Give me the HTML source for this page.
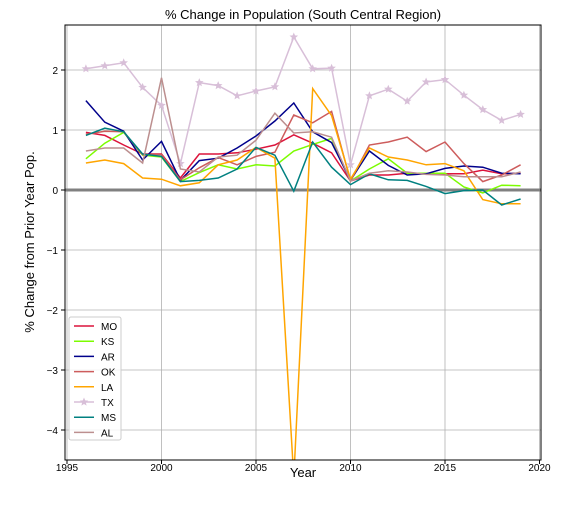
<!DOCTYPE html>
<html><head><meta charset="utf-8"><style>
body{margin:0;background:#fff}
svg text{font-family:"Liberation Sans","DejaVu Sans",sans-serif}
</style></head><body>
<svg id="c" width="576" height="504" xmlns="http://www.w3.org/2000/svg">
<defs><clipPath id="clip"><rect x="65" y="25" width="476" height="435"/></clipPath></defs>
<rect x="0" y="0" width="576" height="504" fill="#fff"/>
<g id="grid"></g>
<g id="series" clip-path="url(#clip)"></g>
<rect x="65" y="25" width="476" height="435" fill="none" stroke="#000" stroke-width="1"/>
<g id="ticks"></g>
<text x="303" y="19" text-anchor="middle" font-size="13">% Change in Population (South Central Region)</text>
<text x="303" y="477" text-anchor="middle" font-size="13">Year</text>
<text transform="translate(34,242) rotate(-90)" text-anchor="middle" font-size="13">% Change from Prior Year Pop.</text>
<g id="legend"></g>
</svg>
<script>
const years=[1996,1997,1998,1999,2000,2001,2002,2003,2004,2005,2006,2007,2008,2009,2010,2011,2012,2013,2014,2015,2016,2017,2018,2019];
const MO=[0.96,0.91,0.75,0.6,0.6,0.2,0.6,0.6,0.62,0.68,0.75,0.92,0.78,0.62,0.15,0.25,0.25,0.28,0.27,0.27,0.27,0.33,0.27,0.28];
const KS=[0.52,0.78,0.96,0.58,0.55,0.14,0.29,0.42,0.35,0.42,0.4,0.65,0.76,0.86,0.15,0.35,0.52,0.28,0.28,0.28,0.05,-0.05,0.08,0.07];
const AR=[1.49,1.13,0.98,0.5,0.81,0.16,0.49,0.53,0.7,0.9,1.15,1.45,0.97,0.79,0.16,0.65,0.41,0.25,0.27,0.36,0.4,0.38,0.28,0.27];
const OK=[0.93,0.98,0.97,0.59,0.59,0.17,0.37,0.54,0.42,0.56,0.63,1.25,1.12,1.31,0.15,0.75,0.8,0.88,0.64,0.8,0.44,0.14,0.25,0.42];
const LA=[0.45,0.5,0.44,0.2,0.18,0.07,0.12,0.42,0.5,0.71,0.53,-4.8,1.69,1.24,0.18,0.7,0.55,0.5,0.42,0.44,0.32,-0.16,-0.23,-0.23];
const TX=[2.02,2.07,2.12,1.71,1.41,0.44,1.79,1.74,1.57,1.65,1.72,2.55,2.02,2.03,0.42,1.57,1.68,1.48,1.8,1.84,1.58,1.34,1.16,1.26];
const MS=[0.91,1.03,0.97,0.6,0.56,0.14,0.16,0.2,0.35,0.71,0.58,-0.02,0.8,0.38,0.09,0.27,0.17,0.16,0.06,-0.06,-0.01,0.0,-0.25,-0.15];
const AL=[0.65,0.7,0.7,0.45,1.87,0.35,0.3,0.55,0.58,0.83,1.28,0.95,0.97,0.88,0.15,0.28,0.32,0.3,0.26,0.25,0.22,0.22,0.22,0.3];
const xTicks=[1995,2000,2005,2010,2015,2020];
const yTicks=[2,1,0,-1,-2,-3,-4];
const seriesNames=["MO","KS","AR","OK","LA","TX","MS","AL"];
const seriesData=[MO,KS,AR,OK,LA,TX,MS,AL];
const colors=["#dc143c","#7cfc00","#00008b","#cd5c5c","#ffa500","#d8bfd8","#008080","#bc8f8f"];
const NS="http://www.w3.org/2000/svg";
const xs=y=>67+(y-1995)*18.9;
const ys=v=>190-v*60;
function mk(t,a,p){const e=document.createElementNS(NS,t);for(const k in a)e.setAttribute(k,a[k]);p.appendChild(e);return e;}
const grid=document.getElementById('grid'),ticks=document.getElementById('ticks');
xTicks.forEach(t=>{
 const l=mk('line',{x1:xs(t),x2:xs(t),y1:25,y2:460,stroke:'#b0b0b0','stroke-width':0.8},grid);
 
 
 mk('line',{x1:xs(t),x2:xs(t),y1:460,y2:464,stroke:'#000'},ticks);
 const tx=mk('text',{x:xs(t),y:471,'text-anchor':'middle','font-size':10},ticks);tx.textContent=t;
 
 
});
yTicks.forEach(t=>{
 const l=mk('line',{x1:65,x2:541,y1:ys(t),y2:ys(t),stroke:'#b0b0b0','stroke-width':0.8},grid);
 
 
 mk('line',{x1:61,x2:65,y1:ys(t),y2:ys(t),stroke:'#000'},ticks);
 const tx=mk('text',{x:58,y:ys(t)+4,'text-anchor':'end','font-size':10},ticks);tx.textContent=(t<0?'\u2212'+(-t):t);
 
 
});
const z=mk('line',{x1:65,x2:541,y1:ys(0),y2:ys(0),stroke:'#808080','stroke-width':3},grid);


const sg=document.getElementById('series');
function star(cx,cy,r){let p=[];for(let i=0;i<10;i++){const a=-Math.PI/2+i*Math.PI/5;const rr=i%2?r*0.45:r;p.push((cx+rr*Math.cos(a)).toFixed(1)+','+(cy+rr*Math.sin(a)).toFixed(1));}return p.join(' ');}
seriesData.forEach((d,i)=>{
 const pts=d.map((v,j)=>xs(years[j])+','+ys(v)).join(' ');
 const pl=mk('polyline',{points:pts,fill:'none',stroke:colors[i],'stroke-width':1.5},sg);
 
 
 if(seriesNames[i]==='TX'){d.forEach((v,j)=>{const s=mk('polygon',{points:star(xs(years[j]),ys(v),4.5),fill:colors[i]},sg);
 
 });}
});
const lg=document.getElementById('legend');
const box=mk('rect',{x:69,y:317,width:52,height:123,fill:'#fff','fill-opacity':0.85,stroke:'#ccc',rx:2},lg);


seriesNames.forEach((n,i)=>{
 const y=326+i*15.2;
 const l=mk('line',{x1:74,x2:94,y1:y,y2:y,stroke:colors[i],'stroke-width':1.5},lg);
 
 
 if(n==='TX'){mk('polygon',{points:star(84,y,4.5),fill:colors[i]},lg);}
 const t=mk('text',{x:101,y:y+4,'font-size':10},lg);t.textContent=n;
 
 
});
</script>
</body></html>
